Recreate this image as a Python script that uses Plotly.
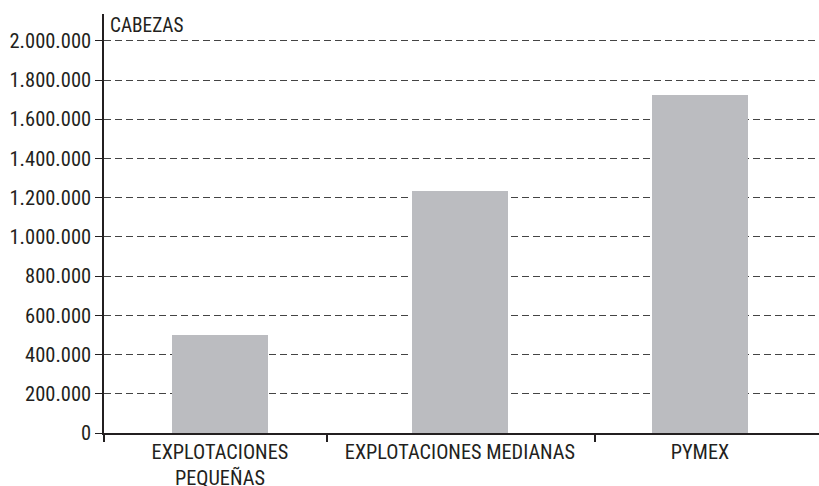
import plotly.graph_objects as go

categories = ["EXPLOTACIONES<br>PEQUEÑAS", "EXPLOTACIONES MEDIANAS", "PYMEX"]
positions = [0, 1, 2]
cabezas = [500000, 1235000, 1725000]
y_ticks = [0, 200000, 400000, 600000, 800000, 1000000, 1200000, 1400000, 1600000, 1800000, 2000000]
divider_ticks = [-0.483, 0.446, 1.5625]

FONT = "Roboto Condensed, Liberation Sans Narrow, sans-serif"

fig = go.Figure(go.Bar(
    x=positions, y=cabezas, width=0.4,
    marker=dict(color="#bbbcc0", line=dict(width=0)),
    hoverinfo="skip",
))

fig.update_layout(
    width=819, height=486,
    margin=dict(l=104, r=0, t=14, b=53),
    plot_bgcolor="white", paper_bgcolor="white",
    separators=",.",
    font=dict(family=FONT, size=20, color="#231f20"),
    showlegend=False,
    bargap=0,
)

fig.update_xaxes(
    range=[-0.483, 2.496], automargin=False,
    tickmode="array", tickvals=positions, ticktext=categories,
    ticks="", showgrid=False, zeroline=False,
    showline=True, linecolor="#231f20", linewidth=1.5,
    tickfont=dict(size=20.3),
    minor=dict(tickmode="array", tickvals=divider_ticks, ticks="outside",
               ticklen=7, tickcolor="#231f20", tickwidth=1.5, showgrid=False),
)

fig.update_yaxes(
    range=[0, 2137000], automargin=False,
    tickmode="array", tickvals=y_ticks, tickformat=",d",
    ticks="outside", ticklen=7, tickcolor="#231f20", tickwidth=1,
    showline=True, linecolor="#231f20", linewidth=1.5,
    showgrid=True, gridcolor="#444444", gridwidth=1, griddash="7px,4px",
    zeroline=False,
    tickfont=dict(size=20.5),
)

fig.add_annotation(
    text="CABEZAS", xref="paper", yref="paper", x=0.006, y=0.972,
    xanchor="left", yanchor="middle", showarrow=False,
    bgcolor="white",
    font=dict(family=FONT, size=19.3, color="#231f20"),
)

fig.write_html("out.html",
               config={"displayModeBar": False},
               post_script="document.body.style.margin='0';document.body.style.overflow='hidden';")
